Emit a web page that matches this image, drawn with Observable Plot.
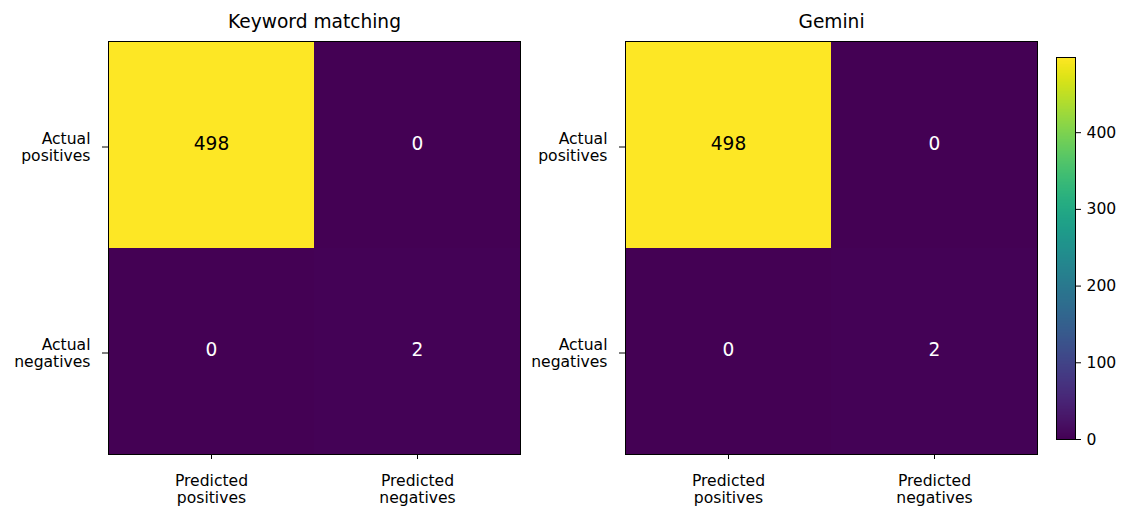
<!DOCTYPE html>
<html>
<head>
<meta charset="utf-8">
<script src="https://cdn.jsdelivr.net/npm/d3@7"></script>
<script src="https://cdn.jsdelivr.net/npm/@observablehq/plot@0.6"></script>
<style>
  html, body { margin: 0; padding: 0; background: #fff; }
  #wrap { position: relative; width: 1123px; height: 510px; overflow: hidden; }
  #wrap > div { position: absolute; top: 0; }
  svg { font-family: "DejaVu Sans", sans-serif; background: transparent !important; }
</style>
</head>
<body>
<div id="wrap">
  <div id="left" style="left:0px"></div>
  <div id="right" style="left:517px"></div>
  <div id="cbar" style="left:1040px"></div>
</div>
<script>
// ---- data ----
const models = ["Keyword matching", "Gemini"];
const rowLabels = ["Actual\npositives", "Actual\nnegatives"];
const colLabels = ["Predicted\npositives", "Predicted\nnegatives"];
const keywordCounts = [498, 0, 0, 2];   // row-major: [TP, FN, FP, TN]
const geminiCounts = [498, 0, 0, 2];
const colorbarTicks = [0, 100, 200, 300, 400];
const colorMin = 0;
const colorMax = 498;

const FONT = "DejaVu Sans";
const TICK_FS = 15.6;
const BIG_FS = 18.6;

function cells(counts) {
  const out = [];
  rowLabels.forEach((r, i) => colLabels.forEach((c, j) => {
    out.push({row: r, col: c, value: counts[i * colLabels.length + j]});
  }));
  return out;
}

function matrix(title, counts) {
  const data = cells(counts);
  const thresh = (colorMin + colorMax) / 2;
  return Plot.plot({
    width: 560,
    height: 510,
    marginLeft: 108,
    marginRight: 40,
    marginTop: 41,
    marginBottom: 56,
    style: {fontFamily: FONT, fontSize: TICK_FS + "px", background: "transparent"},
    x: {domain: colLabels, padding: 0, axis: null},
    y: {domain: rowLabels, padding: 0, axis: null},
    color: {type: "linear", scheme: "viridis", domain: [colorMin, colorMax]},
    marks: [
      Plot.cell(data, {x: "col", y: "row", fill: "value", inset: 0}),
      Plot.frame({stroke: "#000", strokeWidth: 1}),
      Plot.text(data, {
        x: "col", y: "row", text: d => String(d.value),
        fill: d => d.value > thresh ? "#000" : "#fff",
        fontSize: BIG_FS, fontFamily: FONT, dy: -1
      }),
      Plot.axisX({
        anchor: "bottom", tickSize: 5, tickPadding: 14,
        lineAnchor: "top", lineHeight: 1.12, fontSize: TICK_FS, fill: "#000", stroke: "#000",
        tickFormat: d => d, label: null
      }),
      Plot.axisY({
        anchor: "left", tickSize: 6, tickPadding: 12,
        lineHeight: 1.1, fontSize: TICK_FS, fill: "#000", stroke: "#000",
        tickFormat: d => d, label: null, dy: 1.5
      }),
      Plot.text([title], {
        frameAnchor: "top", lineAnchor: "bottom", dy: -14,
        fontSize: BIG_FS, fontFamily: FONT, fill: "#000"
      })
    ]
  });
}

document.getElementById("left").append(matrix(models[0], keywordCounts));
document.getElementById("right").append(matrix(models[1], geminiCounts));

const cbar = Plot.plot({
  width: 83,
  height: 510,
  marginLeft: 16,
  marginRight: 48,
  marginTop: 57,
  marginBottom: 71,
  style: {fontFamily: FONT, fontSize: TICK_FS + "px", background: "transparent"},
  x: {domain: [0, 1], axis: null},
  y: {domain: [colorMin, colorMax], axis: null},
  color: {type: "linear", scheme: "viridis", domain: [colorMin, colorMax]},
  marks: [
    Plot.raster({x1: 0, x2: 1, y1: colorMin, y2: colorMax, fill: (x, y) => y, pixelSize: 1, interpolate: "none"}),
    Plot.frame({stroke: "#000", strokeWidth: 1}),
    Plot.axisY(colorbarTicks, {
      anchor: "right", tickSize: 5, tickPadding: 6,
      fontSize: TICK_FS, fill: "#000", stroke: "#000", label: null
    })
  ]
});
document.getElementById("cbar").append(cbar);
</script>
</body>
</html>
